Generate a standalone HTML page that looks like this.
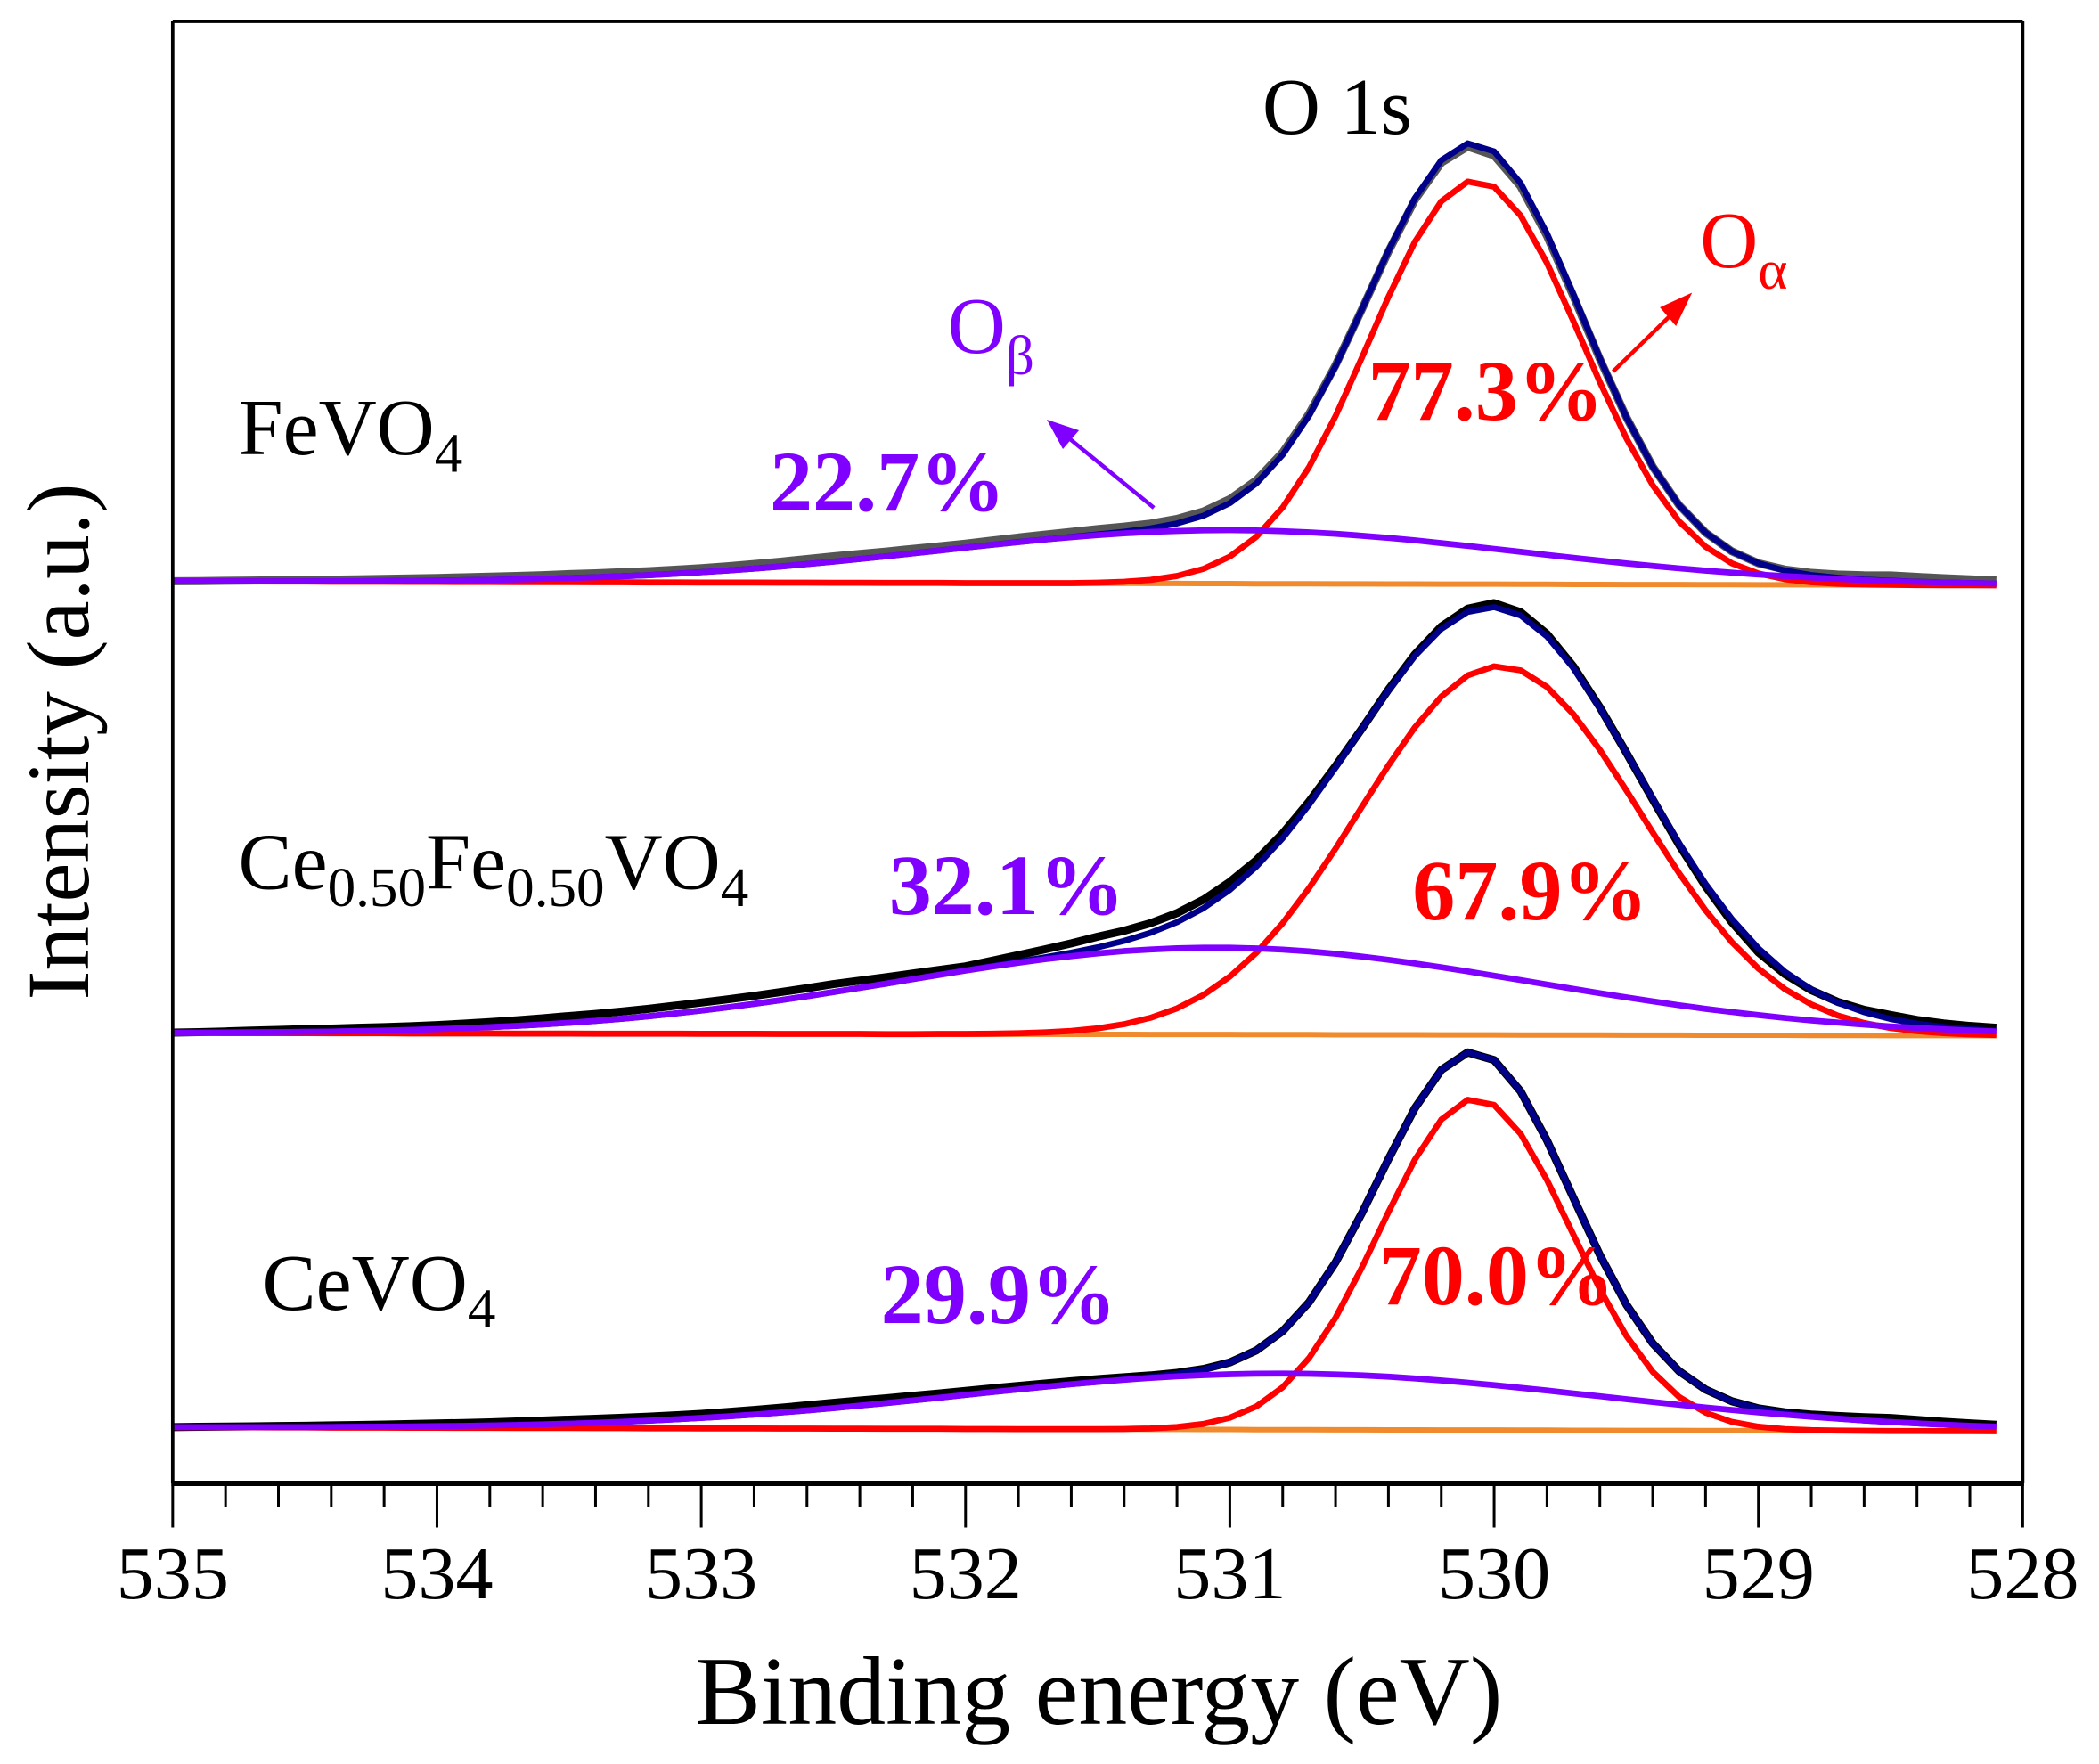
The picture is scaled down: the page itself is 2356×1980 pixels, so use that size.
<!DOCTYPE html>
<html><head><meta charset="utf-8"><style>html,body{margin:0;padding:0;background:#fff}svg{display:block}text{font-family:"Liberation Serif",serif}</style></head>
<body>
<svg id="chart" width="2356" height="1980" viewBox="0 0 1568 1320" preserveAspectRatio="none" xmlns="http://www.w3.org/2000/svg">
<g id="plot"></g>
<g id="axes"></g>
<g id="labels">
<text x="943" y="100" font-size="60">O 1s</text>
<text x="178" y="340" font-size="60">FeVO<tspan font-size="42" dy="13">4</tspan></text>
<text x="178" y="665" font-size="60">Ce<tspan font-size="42" dy="13">0.50</tspan><tspan dy="-13">Fe</tspan><tspan font-size="42" dy="13">0.50</tspan><tspan dy="-13">VO</tspan><tspan font-size="42" dy="13">4</tspan></text>
<text x="196" y="980" font-size="60">CeVO<tspan font-size="42" dy="13">4</tspan></text>
<text x="1022" y="314" font-size="64" font-weight="bold" fill="#ff0000">77.3%</text>
<text x="575" y="382" font-size="64" font-weight="bold" fill="#8000ff">22.7%</text>
<text x="664" y="684" font-size="64" font-weight="bold" fill="#8000ff">32.1%</text>
<text x="1055" y="688" font-size="64" font-weight="bold" fill="#ff0000">67.9%</text>
<text x="658" y="990" font-size="64" font-weight="bold" fill="#8000ff">29.9%</text>
<text x="1030" y="976" font-size="64" font-weight="bold" fill="#ff0000">70.0%</text>
<text x="1270" y="200" font-size="60" fill="#ff0000">O<tspan font-size="42" dy="16">α</tspan></text>
<text x="708" y="264" font-size="60" fill="#8000ff">O<tspan font-size="42" dy="16">β</tspan></text>
<line x1="1205" y1="278" x2="1252" y2="232" stroke="#ff0000" stroke-width="3"/>
<polygon points="1264,219 1240,230 1252,244" fill="#ff0000"/>
<line x1="862" y1="380" x2="795" y2="325" stroke="#8000ff" stroke-width="3"/>
<polygon points="782,314 806,322 794,336" fill="#8000ff"/>
<text x="821" y="1290" font-size="73" text-anchor="middle">Binding energy (eV)</text>
<text transform="translate(66,555) rotate(-90)" font-size="66" text-anchor="middle">Intensity (a.u.)</text>
</g>
</svg>
<script>
// samples
const sampleNames = ["fevo4","ce050fe050vo4","cevo4"];
const baselineLevel = [0, 338, 633];          // vertical offset (a.u.) of each spectrum
const alphaCenter = [530.07, 529.98, 530.07];
const alphaHeight = [302, 276, 248];
const alphaSigma = [0.40, 0.53, 0.36];
const betaCenter = [531.0, 531.05, 530.8];
const betaHeight = [40, 65, 42];
const betaSigma = [1.1, 1.2, 1.2];
const bgSlope = [3, 2, 3];                    // background drop over range
const rawEnergies = [535,534.5,534,533.5,533,532.5,532,531.5,531,530.5,530,529.5,529,528.5,528];
const rawDeltaFe = [0,1,2,3,3,4,3,4,3,0,-3,0,0,4,2];
const rawDeltaCe = [0,2,3,5,6,6,3,8,6,0,3,0,-3,3,2];
const rawDeltaCeV = [0,1,2,3,3,4,3,2,0,0,0,0,0,3,1];
const rawDeltas = [rawDeltaFe, rawDeltaCe, rawDeltaCeV];
const xTicks = [535,534,533,532,531,530,529,528];
const rawColors = ["#555555","#000000","#000000"];

const X0=129, X1=1511, Y0=16, YB=1110, TOP0=435;
const xs = e => X0 + (535 - e) * (X1 - X0) / 7;
const ys = v => TOP0 + v;
const NS="http://www.w3.org/2000/svg";
const plot=document.getElementById('plot'), axes=document.getElementById('axes');
function gauss(e,c,h,s){return h*Math.exp(-((e-c)*(e-c))/(2*s*s));}
function interp(arr,e){for(let i=0;i<rawEnergies.length-1;i++){const a=rawEnergies[i],b=rawEnergies[i+1];if(e<=a&&e>=b){const t=(a-e)/(a-b);return arr[i]+(arr[i+1]-arr[i])*t;}}return 0;}
function pathFrom(fn){let d="";for(let e=535;e>=528.07;e-=0.1){const v=fn(e);d+=(d?"L":"M")+xs(e).toFixed(1)+","+v.toFixed(1);}return d;}
function addPath(d,color,w,name){const p=document.createElementNS(NS,'path');p.setAttribute('d',d);p.setAttribute('fill','none');p.setAttribute('stroke',color);p.setAttribute('stroke-width',w);p.setAttribute('stroke-linejoin','round');


plot.appendChild(p);}
sampleNames.forEach((n,i)=>{
  const base=e=>ys(baselineLevel[i])+bgSlope[i]*(535-e)/7;
  const a=e=>gauss(e,alphaCenter[i],alphaHeight[i],alphaSigma[i]);
  const b=e=>gauss(e,betaCenter[i],betaHeight[i],betaSigma[i]);
  addPath(pathFrom(e=>base(e)),"#f08a2c",4,n+"-background");
  addPath(pathFrom(e=>base(e)-a(e)-b(e)-interp(rawDeltas[i],e)),rawColors[i],6,n+"-raw-data");
  addPath(pathFrom(e=>base(e)-a(e)-b(e)),"#00008b",4.5,n+"-envelope");
  addPath(pathFrom(e=>base(e)-a(e)),"#ff0000",4.5,n+"-o-alpha-peak");
  addPath(pathFrom(e=>base(e)-b(e)),"#8000ff",4.5,n+"-o-beta-peak");
});
function line(x1,y1,x2,y2,w,name){const l=document.createElementNS(NS,'line');l.setAttribute('x1',x1);l.setAttribute('y1',y1);l.setAttribute('x2',x2);l.setAttribute('y2',y2);l.setAttribute('stroke','#000');l.setAttribute('stroke-width',w);


axes.appendChild(l);}
line(X0,Y0,X1,Y0,2.5,'top-border');
line(X0,Y0,X0,YB,2.5,'left-border');
line(X1,Y0,X1,YB,2.5,'right-border');
line(X0-1,YB,X1+1,YB,4,'x-axis-line');
for(let k=0;k<=35;k++){const e=535-k*0.2;const major=k%5===0;line(xs(e),YB,xs(e),YB+(major?33:18),2,major?'x-major-tick':'x-minor-tick');}
xTicks.forEach(t=>{const tx=document.createElementNS(NS,'text');tx.setAttribute('x',xs(t));tx.setAttribute('y',1196);tx.setAttribute('font-size','56');tx.setAttribute('text-anchor','middle');tx.textContent=t;


axes.appendChild(tx);});
</script>
</body></html>
